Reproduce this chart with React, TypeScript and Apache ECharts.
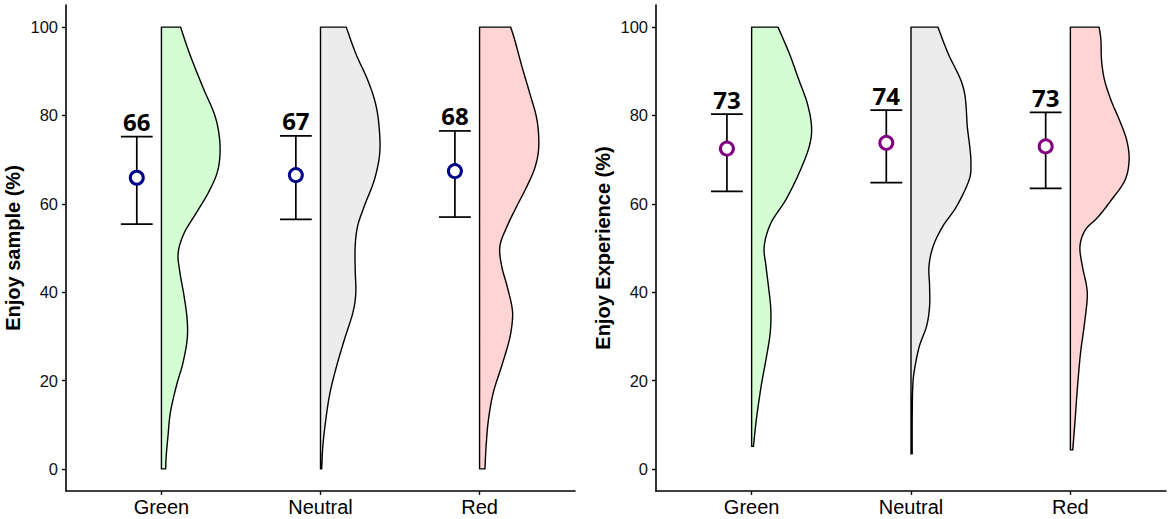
import React, { useEffect, useRef } from "react";
import * as echarts from "echarts";

const categories = ["Green", "Neutral", "Red"];
const categoryPositions = [1, 2, 3];
const yTicks = [0, 20, 40, 60, 80, 100];

const sampleMean = [65.9, 66.5, 67.4];
const sampleLower = [55.4, 56.5, 57.0];
const sampleUpper = [75.2, 75.4, 76.5];
const sampleLabels = ["66", "67", "68"];

const experienceMean = [72.5, 73.8, 73.0];
const experienceLower = [62.8, 64.8, 63.5];
const experienceUpper = [80.3, 81.2, 80.7];
const experienceLabels = ["73", "74", "73"];

// half-violin profiles: [value (%), relative density]
const sampleGreenDensity = [
  [100, 0.32], [94, 0.47], [86.5, 0.69], [80.5, 0.88], [76, 0.96], [71.4, 0.98], [67, 0.93],
  [62.4, 0.78], [57.9, 0.58], [53.4, 0.38], [48.9, 0.28], [44.4, 0.31], [39, 0.38], [33.8, 0.43],
  [29.3, 0.43], [24, 0.36], [18.8, 0.25], [12.8, 0.15], [7.5, 0.11], [3, 0.08], [0, 0.07],
];
const sampleNeutralDensity = [
  [100, 0.43], [94, 0.59], [88, 0.79], [82.7, 0.92], [77.4, 0.98], [71.4, 0.99], [65.4, 0.9],
  [59.4, 0.73], [54.9, 0.62], [50.4, 0.58], [45.1, 0.58], [39.8, 0.59], [35.3, 0.54], [29.3, 0.4],
  [23.3, 0.27], [17.3, 0.16], [11.3, 0.09], [5.3, 0.04], [0, 0.02],
];
const sampleRedDensity = [
  [100, 0.52], [97, 0.59], [91, 0.71], [85, 0.84], [79, 0.96], [73, 0.99], [68.4, 0.93],
  [63.9, 0.79], [59.4, 0.62], [54.9, 0.46], [50.4, 0.34], [45.9, 0.37], [41.4, 0.46], [36.8, 0.54],
  [33.8, 0.55], [29.3, 0.5], [23.3, 0.37], [17.3, 0.23], [11.3, 0.15], [5.3, 0.11], [0, 0.09],
];
const experienceGreenDensity = [
  [100, 0.44], [94, 0.63], [88, 0.79], [82.7, 0.93], [77.4, 1.0], [72.9, 0.96], [66.9, 0.79],
  [60.9, 0.57], [55.6, 0.32], [50.4, 0.21], [45.9, 0.24], [41.4, 0.28], [36.1, 0.32], [30.8, 0.31],
  [24.8, 0.24], [18.8, 0.16], [11.3, 0.08], [5.1, 0.03],
];
const experienceNeutralDensity = [
  [100, 0.45], [94, 0.62], [88.7, 0.81], [85.3, 0.89], [81.9, 0.92], [77.4, 0.94], [73, 0.98],
  [69.2, 1.0], [65.4, 0.97], [59.4, 0.76], [54.9, 0.53], [50.4, 0.37], [45.9, 0.3], [41.4, 0.31],
  [36.8, 0.31], [32.3, 0.26], [27.8, 0.14], [22.6, 0.06], [18.8, 0.03], [11.3, 0.02], [3.4, 0.02],
];
const experienceRedDensity = [
  [100, 0.48], [97, 0.51], [92.5, 0.52], [88, 0.57], [83.4, 0.68], [78.9, 0.82], [74.4, 0.94],
  [69.9, 0.98], [65.3, 0.91], [60.8, 0.68], [57, 0.46], [54.1, 0.25], [50.4, 0.16], [45.9, 0.2],
  [41.4, 0.27], [38.3, 0.28], [32.3, 0.23], [26.3, 0.17], [18.8, 0.12], [11.3, 0.08], [4.3, 0.04],
];

const violinFills = ["#d4fdd4", "#ececec", "#ffd4d4"];
const VIOLIN_MAX_HALF = 0.376;
const POINT_OFFSET = 0.155;
const CAP_HALF = 0.1;

function catmull(pts: number[][], steps: number) {
  const out: number[][] = [];
  for (let i = 0; i < pts.length - 1; i++) {
    const p0 = pts[Math.max(0, i - 1)];
    const p1 = pts[i];
    const p2 = pts[i + 1];
    const p3 = pts[Math.min(pts.length - 1, i + 2)];
    for (let s = 0; s < steps; s++) {
      const t = s / steps;
      const t2 = t * t;
      const t3 = t2 * t;
      const f = (a: number, b: number, c: number, d: number) =>
        0.5 * (2 * b + (-a + c) * t + (2 * a - 5 * b + 4 * c - d) * t2 + (-a + 3 * b - 3 * c + d) * t3);
      out.push([f(p0[0], p1[0], p2[0], p3[0]), f(p0[1], p1[1], p2[1], p3[1])]);
    }
  }
  out.push(pts[pts.length - 1]);
  return out;
}

function violinSeries(profiles: number[][][], gridIdx: number) {
  return {
    type: "custom",
    xAxisIndex: gridIdx,
    yAxisIndex: gridIdx,
    data: categoryPositions.map((p) => [p, 50]),
    renderItem: (params: any, api: any) => {
      const idx = params.dataIndex;
      const pos = api.value(0);
      const prof = profiles[idx];
      const top = prof[0][0];
      const bottom = prof[prof.length - 1][0];
      const leftTop = api.coord([pos, top]);
      const leftBottom = api.coord([pos, bottom]);
      const right = prof.map((d) => api.coord([pos + d[1] * VIOLIN_MAX_HALF, d[0]]));
      const smooth = catmull(right, 8);
      const points = [leftBottom, leftTop, ...smooth];
      return {
        type: "polygon",
        shape: { points },
        style: { fill: violinFills[idx], stroke: "#000", lineWidth: 1.4, lineJoin: "round" },
      };
    },
    z: 2,
  };
}

function errorSeries(lower: number[], upper: number[], labels: string[], gridIdx: number) {
  return {
    type: "custom",
    xAxisIndex: gridIdx,
    yAxisIndex: gridIdx,
    data: categoryPositions.map((p, i) => [p - POINT_OFFSET, lower[i], upper[i], i]),
    renderItem: (params: any, api: any) => {
      const x = api.value(0);
      const lo = api.value(1);
      const hi = api.value(2);
      const i = api.value(3);
      const pLo = api.coord([x, lo]);
      const pHi = api.coord([x, hi]);
      const capL = api.coord([x - CAP_HALF, hi])[0];
      const capR = api.coord([x + CAP_HALF, hi])[0];
      const ls = { stroke: "#000", lineWidth: 1.7 };
      return {
        type: "group",
        children: [
          { type: "line", shape: { x1: pLo[0], y1: pLo[1], x2: pHi[0], y2: pHi[1] }, style: ls },
          { type: "line", shape: { x1: capL, y1: pHi[1], x2: capR, y2: pHi[1] }, style: ls },
          { type: "line", shape: { x1: capL, y1: pLo[1], x2: capR, y2: pLo[1] }, style: ls },
          {
            type: "text",
            x: pHi[0],
            y: pHi[1] - 15,
            style: {
              text: labels[i],
              fill: "#000",
              fontSize: 24,
              fontWeight: "bold",
              fontFamily: "Open Sans",
              align: "center",
              verticalAlign: "middle",
            },
          },
        ],
      };
    },
    z: 3,
  };
}

function meanSeries(mean: number[], color: string, gridIdx: number) {
  return {
    type: "scatter",
    xAxisIndex: gridIdx,
    yAxisIndex: gridIdx,
    data: categoryPositions.map((p, i) => [p - POINT_OFFSET, mean[i]]),
    symbol: "circle",
    symbolSize: 13,
    itemStyle: { color: "#fff", borderColor: color, borderWidth: 3, opacity: 1 },
    z: 5,
  };
}

function xAxis(gridIndex: number) {
  return {
    type: "value",
    gridIndex,
    min: 0.4,
    max: 3.6,
    axisLine: { show: true, onZero: false, lineStyle: { color: "#000", width: 1.6 } },
    axisTick: { show: true, customValues: categoryPositions, length: 4, lineStyle: { color: "#000", width: 1.4 } },
    axisLabel: {
      show: true,
      customValues: categoryPositions,
      formatter: (v: number) => categories[Math.round(v) - 1] ?? "",
      fontSize: 20,
      color: "#000",
      margin: 6,
      fontFamily: "Liberation Sans",
    },
    splitLine: { show: false },
  };
}

function yAxis(gridIndex: number, name: string) {
  return {
    type: "value",
    gridIndex,
    min: -5,
    max: 105,
    name,
    nameLocation: "middle",
    nameGap: 43,
    nameTextStyle: { fontSize: 20, fontWeight: "bold", color: "#000", fontFamily: "Liberation Sans" },
    axisLine: { show: true, onZero: false, lineStyle: { color: "#000", width: 1.6 } },
    axisTick: { show: true, customValues: yTicks, length: 4, lineStyle: { color: "#000", width: 1.4 } },
    axisLabel: { show: true, customValues: yTicks, fontSize: 16.5, color: "#111", margin: 8, fontFamily: "Liberation Sans" },
    splitLine: { show: false },
  };
}

export default function App() {
  const ref = useRef<HTMLDivElement>(null);
  useEffect(() => {
    if (!ref.current) return;
    const chart = echarts.init(ref.current, undefined, { renderer: "svg" });
    chart.setOption({
      animation: false,
      backgroundColor: "#fff",
      textStyle: { fontFamily: "Liberation Sans" },
      grid: [
        { left: 66, top: 5, width: 509, height: 486, outerBoundsMode: "none", containLabel: false },
        { left: 656, top: 5, width: 510, height: 486, outerBoundsMode: "none", containLabel: false },
      ],
      xAxis: [xAxis(0), xAxis(1)],
      yAxis: [yAxis(0, "Enjoy sample (%)"), yAxis(1, "Enjoy Experience (%)")],
      series: [
        violinSeries([sampleGreenDensity, sampleNeutralDensity, sampleRedDensity], 0),
        errorSeries(sampleLower, sampleUpper, sampleLabels, 0),
        meanSeries(sampleMean, "#00008b", 0),
        violinSeries([experienceGreenDensity, experienceNeutralDensity, experienceRedDensity], 1),
        errorSeries(experienceLower, experienceUpper, experienceLabels, 1),
        meanSeries(experienceMean, "#800080", 1),
      ],
    });
    return () => chart.dispose();
  }, []);
  return (
    <div
      ref={ref}
      style={{ position: "absolute", left: 0, top: 0, width: 1170, height: 519, background: "#fff" }}
    />
  );
}
